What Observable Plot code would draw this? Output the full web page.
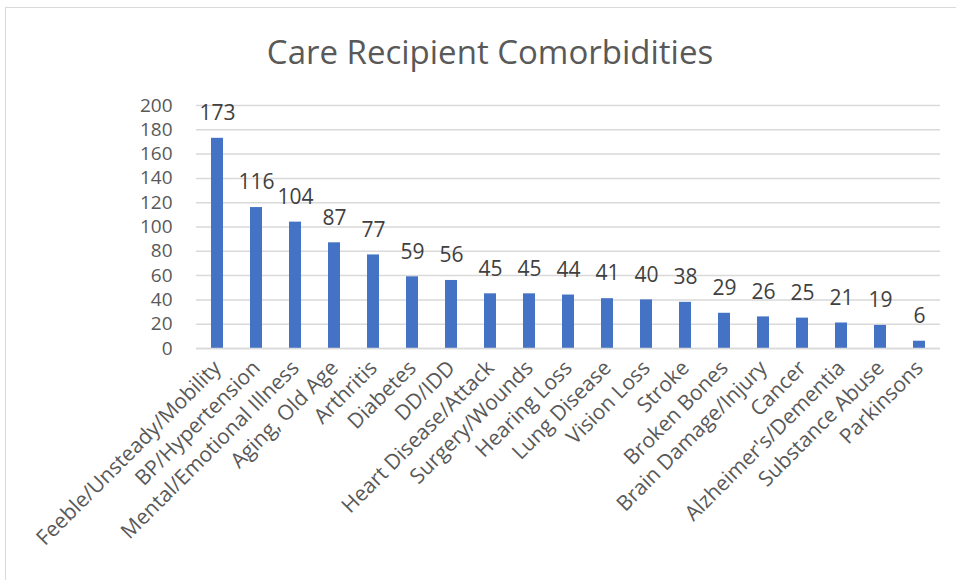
<!DOCTYPE html>
<html>
<head>
<meta charset="utf-8">
<script src="https://cdn.jsdelivr.net/npm/d3@7"></script>
<script src="https://cdn.jsdelivr.net/npm/@observablehq/plot@0.6"></script>
<style>
  body { margin: 0; background: #fff; }
  #frame { position: absolute; left: 5px; top: 7px; width: 960px; height: 600px; border: 1px solid #d9d9d9; box-sizing: border-box; }
  #title { position: absolute; left: 0; width: 980px; top: 30px; text-align: center; font-family: "Open Sans", sans-serif; font-size: 33px; line-height: 44px; color: #595959; font-weight: 400; }
  #chart { position: absolute; left: 0; top: 0; }
</style>
</head>
<body>
<div id="frame"></div>
<div id="title">Care Recipient Comorbidities</div>
<div id="chart"></div>
<script>
const categories = ["Feeble/Unsteady/Mobility","BP/Hypertension","Mental/Emotional Illness","Aging, Old Age","Arthritis","Diabetes","DD/IDD","Heart Disease/Attack","Surgery/Wounds","Hearing Loss","Lung Disease","Vision Loss","Stroke","Broken Bones","Brain Damage/Injury","Cancer","Alzheimer's/Dementia","Substance Abuse","Parkinsons"];
const values = [173,116,104,87,77,59,56,45,45,44,41,40,38,29,26,25,21,19,6];
const yTicks = [0,20,40,60,80,100,120,140,160,180,200];

const data = categories.map((c, i) => ({category: c, value: values[i]}));

const chart = Plot.plot({
  width: 956,
  height: 580,
  marginTop: 105,
  marginBottom: 232,
  marginLeft: 196,
  marginRight: 16,
  style: {fontFamily: "'Open Sans', sans-serif", fontSize: "21px", color: "#595959", background: "transparent"},
  x: {domain: categories, paddingInner: 0.7, paddingOuter: 0.35, label: null},
  y: {domain: [0, 200], label: null},
  marks: [
    Plot.gridY(yTicks, {stroke: "#d9d9d9", strokeOpacity: 1, strokeWidth: 1.5}),
    Plot.axisY(yTicks, {tickSize: 0, tickPadding: 24, fontSize: 19, fill: "#595959", label: null}),
    Plot.barY(data, {x: "category", y: "value", fill: "#4472C4"}),
    Plot.ruleY([0], {stroke: "#d9d9d9", strokeWidth: 1.5}),
    Plot.text(data, {x: "category", y: "value", text: d => String(d.value), dy: -25, fontSize: 21, fill: "#404040"}),
    Plot.axisX({tickSize: 0, tickRotate: -45, tickPadding: 16, fontSize: 21, fill: "#595959", label: null})
  ]
});
document.getElementById("chart").appendChild(chart);
</script>
</body>
</html>
